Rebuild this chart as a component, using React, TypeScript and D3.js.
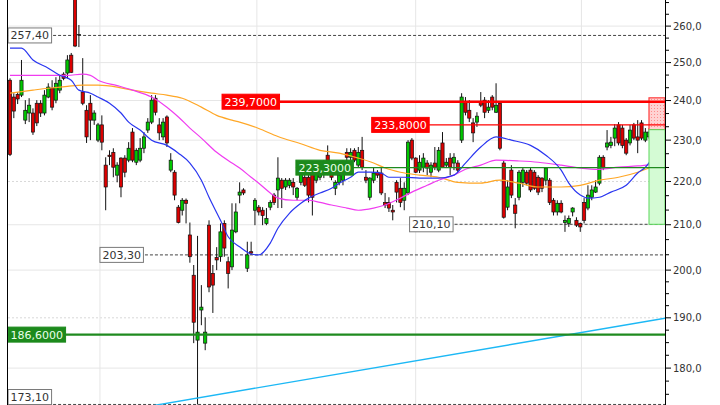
import * as d3 from 'd3'
import React from 'react'

const W = 720
const H = 405
const AXIS_X = 665
const FIRST_X = 10
const LAST_X = 653

// visible price range of the log axis
const priceBottom = 173.0
const priceTop = 267.4

// [open, high, low, close]
const candles: [number, number, number, number][] = [
  [245.3, 245.8, 226.1, 226.5], [240.9, 241.9, 235.5, 237.3], [241.6, 242.2, 239.1, 240.4], [241.4, 250.7, 240.9, 245.3],
  [235.0, 240.1, 234.0, 237.5], [236.8, 240.6, 234.5, 238.8], [236.8, 238.0, 231.3, 232.0], [239.3, 240.1, 233.5, 234.3],
  [239.3, 240.1, 235.8, 236.8], [236.8, 242.7, 236.2, 241.4], [240.9, 244.5, 240.6, 243.5], [243.2, 245.3, 237.5, 238.3],
  [240.1, 246.1, 239.3, 244.5], [242.7, 246.6, 241.9, 245.3], [246.9, 247.4, 245.3, 245.8], [247.2, 252.0, 245.8, 250.7],
  [252.0, 252.6, 247.2, 247.4], [276.1, 277.6, 254.2, 254.5], [257.6, 260.3, 254.2, 257.4], [242.2, 251.2, 238.8, 239.3],
  [237.5, 238.8, 229.3, 230.8], [239.3, 241.4, 230.0, 235.0], [235.0, 237.5, 233.8, 236.8], [230.0, 234.3, 229.5, 233.8],
  [233.8, 236.2, 227.5, 229.5], [223.9, 225.8, 213.3, 218.7], [226.3, 227.5, 223.9, 226.0], [227.0, 228.0, 221.0, 223.4],
  [221.5, 224.6, 219.8, 223.9], [225.6, 225.8, 216.3, 218.7], [225.6, 226.3, 221.0, 222.2], [225.1, 229.5, 224.6, 228.0],
  [232.0, 233.0, 224.6, 225.1], [224.6, 228.0, 223.9, 227.5], [225.1, 230.5, 224.6, 228.0], [228.0, 232.0, 226.8, 230.8],
  [232.5, 235.5, 231.8, 234.5], [234.5, 241.4, 234.0, 240.1], [240.6, 241.4, 236.2, 237.0], [233.8, 235.5, 230.0, 231.8],
  [230.8, 235.5, 230.0, 234.5], [235.8, 236.2, 228.3, 229.3], [222.7, 226.8, 222.2, 225.1], [222.2, 222.7, 215.6, 216.8],
  [214.0, 214.5, 210.3, 210.5], [213.3, 216.1, 212.1, 215.6], [215.6, 216.0, 210.3, 214.9], [207.7, 210.5, 201.6, 202.9],
  [198.9, 201.1, 184.9, 189.1], [185.5, 207.5, 173.1, 187.1], [191.6, 196.8, 188.5, 192.2], [184.9, 190.1, 183.5, 187.1],
  [209.9, 211.0, 195.3, 196.4], [199.3, 201.1, 191.0, 196.8], [202.7, 205.0, 200.0, 202.2], [202.9, 210.3, 201.8, 208.4],
  [210.3, 211.0, 202.9, 204.8], [201.8, 202.9, 196.1, 199.3], [200.7, 214.9, 200.0, 208.8], [208.4, 214.9, 208.1, 212.9],
  [216.8, 219.8, 214.9, 217.5], [218.0, 218.4, 216.8, 217.3], [200.4, 206.2, 199.6, 203.3], [204.0, 206.2, 203.3, 203.7],
  [213.3, 216.1, 209.9, 215.6], [214.0, 214.5, 212.1, 212.9], [213.3, 214.0, 209.9, 212.1], [210.3, 213.8, 209.9, 211.4],
  [214.0, 215.6, 213.3, 215.1], [216.8, 217.3, 214.5, 215.1], [218.0, 225.8, 213.8, 220.8], [220.3, 220.8, 213.8, 218.4],
  [218.7, 220.8, 218.0, 220.3], [219.1, 220.8, 218.4, 220.3], [219.8, 220.8, 216.8, 218.7], [216.3, 218.7, 215.6, 218.4],
  [219.8, 224.4, 219.1, 222.7], [221.0, 222.7, 218.7, 219.1], [221.0, 223.4, 215.1, 216.8], [222.0, 222.7, 212.1, 216.3],
  [220.3, 224.4, 219.6, 223.9], [221.0, 223.9, 220.3, 223.4], [222.2, 225.1, 220.8, 223.9], [226.3, 228.7, 221.5, 224.4],
  [222.7, 223.9, 220.3, 221.0], [218.4, 220.3, 216.8, 219.8], [219.8, 222.2, 219.1, 221.5], [220.3, 225.1, 219.1, 223.2],
  [227.0, 228.0, 224.6, 225.8], [225.8, 228.0, 225.1, 227.0], [227.5, 228.0, 224.6, 225.1], [223.9, 228.3, 223.4, 227.0],
  [227.5, 230.8, 222.7, 223.4], [221.0, 222.7, 219.6, 220.3], [216.3, 221.0, 215.6, 220.8], [220.3, 223.2, 219.6, 222.0],
  [222.2, 222.7, 220.8, 221.5], [222.0, 223.2, 216.8, 217.3], [215.1, 217.3, 213.8, 214.5], [215.1, 216.3, 212.9, 213.8],
  [213.3, 214.5, 211.0, 212.9], [219.8, 220.3, 215.1, 217.5], [218.4, 220.8, 214.0, 215.1], [215.6, 219.8, 213.3, 218.4],
  [217.3, 230.0, 216.8, 229.5], [230.0, 230.5, 225.1, 225.6], [225.6, 225.8, 222.0, 222.2], [222.7, 226.3, 222.0, 224.6],
  [223.4, 226.8, 222.2, 225.6], [224.4, 225.1, 221.5, 223.2], [222.2, 224.6, 221.0, 223.9], [224.4, 228.3, 222.7, 223.4],
  [222.7, 228.3, 222.2, 227.5], [229.3, 232.0, 223.2, 223.4], [223.9, 225.6, 223.2, 224.6], [225.6, 226.8, 221.5, 223.4],
  [224.4, 226.8, 222.7, 225.8], [224.4, 225.1, 222.2, 222.7], [230.0, 241.9, 229.3, 240.9], [239.6, 240.9, 236.2, 237.0],
  [237.5, 240.1, 234.5, 235.5], [234.3, 235.5, 229.5, 231.8], [234.5, 237.0, 233.3, 236.0], [239.6, 242.2, 238.3, 238.8],
  [240.1, 240.9, 235.5, 237.0], [237.5, 240.1, 236.8, 238.3], [240.9, 241.4, 237.5, 238.3], [237.0, 244.5, 236.8, 238.8],
  [239.3, 239.8, 227.5, 228.0], [224.4, 225.1, 211.4, 211.7], [214.0, 220.3, 213.3, 218.7], [222.7, 223.9, 216.1, 216.8],
  [214.5, 216.1, 209.2, 212.6], [216.3, 222.7, 215.6, 222.2], [219.8, 223.2, 218.7, 222.7], [222.2, 222.7, 219.1, 219.6],
  [222.7, 223.2, 217.5, 218.0], [222.2, 222.7, 218.0, 218.4], [221.0, 221.5, 216.8, 217.5], [220.8, 221.0, 217.5, 218.4],
  [220.3, 223.4, 219.1, 223.2], [220.3, 220.8, 214.5, 215.1], [215.6, 216.1, 212.1, 212.9], [212.9, 215.6, 212.1, 214.9],
  [214.9, 215.6, 212.6, 212.9], [210.5, 212.1, 208.4, 211.0], [210.3, 212.1, 209.5, 211.4], [212.9, 214.0, 211.9, 213.8],
  [211.0, 211.7, 209.5, 209.9], [210.3, 210.5, 208.4, 209.5], [215.1, 216.1, 210.3, 211.0], [213.8, 219.1, 213.3, 216.8],
  [216.3, 219.1, 215.6, 218.0], [217.5, 220.3, 217.3, 218.7], [219.6, 226.3, 219.1, 225.8], [225.8, 226.3, 222.7, 223.2],
  [228.3, 232.5, 227.5, 229.3], [228.7, 230.8, 228.0, 229.5], [230.5, 234.0, 228.5, 233.0], [233.8, 234.5, 228.7, 229.3],
  [233.0, 233.8, 228.0, 228.7], [230.0, 230.5, 226.3, 226.8], [229.3, 233.8, 228.7, 232.5], [233.8, 234.3, 230.0, 230.5],
  [230.8, 235.0, 226.8, 230.0], [234.3, 235.0, 230.0, 230.5], [230.0, 233.0, 229.5, 232.0], [230.8, 233.0, 230.3, 232.0],
  [231.0, 233.8, 230.3, 231.8],
]

// moving averages, [candle index, value]
const fastMA: [number, number][] = [
  [0, 253.9], [3, 253.9], [6, 250.7], [10, 248.5], [13, 246.6], [16, 245.3], [18, 242.7], [21, 241.9], [23, 240.9],
  [26, 239.3], [29, 236.8], [31, 234.5], [34, 232.5], [37, 230.0], [41, 228.7], [44, 226.8], [47, 224.4], [50, 220.3],
  [52, 216.3], [55, 211.0], [57, 207.3], [60, 205.1], [63, 203.5], [65, 203.3], [68, 205.9], [70, 209.2], [73, 212.6],
  [76, 214.9], [78, 216.1], [81, 217.3], [84, 218.4], [86, 219.6], [89, 221.0], [91, 222.2], [94, 222.2], [97, 222.0],
  [99, 221.0], [103, 221.0], [107, 220.8], [112, 220.8], [116, 221.5], [119, 224.4], [123, 228.3], [127, 230.8],
  [131, 230.0], [136, 228.7], [140, 226.3], [144, 222.7], [146, 219.6], [149, 216.8], [151, 216.1], [154, 216.3],
  [157, 217.5], [161, 219.1], [164, 222.0], [166, 223.4], [168, 225.8],
]
const midMA: [number, number][] = [
  [0, 246.6], [6, 246.6], [10, 246.6], [15, 246.6], [19, 246.9], [21, 246.6], [23, 245.3], [28, 243.9], [32, 242.7],
  [37, 240.9], [41, 238.3], [44, 235.8], [47, 233.0], [50, 230.5], [54, 227.0], [58, 224.4], [60, 223.2], [63, 221.0],
  [65, 219.6], [68, 217.3], [70, 216.1], [74, 215.6], [78, 215.6], [81, 215.1], [84, 214.5], [88, 213.8], [91, 213.3],
  [95, 213.8], [98, 214.5], [102, 216.1], [105, 217.5], [109, 219.1], [112, 220.3], [116, 221.5], [119, 222.9],
  [123, 223.9], [127, 225.1], [133, 224.9], [138, 224.6], [144, 223.9], [149, 223.2], [154, 222.9], [159, 223.4],
  [164, 223.7], [168, 224.1],
]
const slowMA: [number, number][] = [
  [0, 241.9], [6, 242.7], [10, 243.2], [15, 243.7], [19, 244.0], [23, 244.0], [28, 243.5], [32, 242.7], [37, 241.9],
  [41, 241.4], [45, 240.6], [50, 238.3], [54, 236.2], [58, 235.0], [60, 234.5], [65, 232.9], [70, 230.9], [76, 229.1],
  [81, 227.5], [86, 226.8], [91, 225.6], [95, 224.4], [98, 223.2], [102, 222.2], [107, 221.5], [112, 221.0],
  [117, 219.8], [123, 219.6], [128, 220.3], [133, 219.6], [138, 218.7], [144, 218.7], [149, 219.1], [154, 220.3],
  [159, 221.0], [164, 222.2], [167, 223.2],
]

// horizontal levels: value, candle index where the label starts
const redLevels = [
  { value: 239.7, from: 55.4, thick: 2.4 },
  { value: 233.8, from: 94.5, thick: 1.3 },
]
const greenLevels = [
  { value: 223.3, from: 74.7, thick: 1.4 },
  { value: 186.6, from: -0.5, thick: 2.2 },
]
const markLevels = [
  { value: 257.4, from: -0.5 },
  { value: 210.1, from: 104.4 },
  { value: 203.3, from: 23.5 },
  { value: 173.1, from: -0.5 },
]

// trend line anchors
const trendA = { i: 40, v: 173.2 }
const trendB = { i: 168, v: 189.5 }

// projection boxes right of the last candle
const boxMid = 232.6
const boxHigh = 240.7
const boxLow = 210.1

const majorTicks = [180, 190, 200, 210, 220, 230, 240, 250, 260]
const dottedTicks = [190, 220]
const monthIdx = [23.5, 64.5, 106, 149.3]

const canvas = document.createElement('canvas').getContext('2d')
const textW = (s: string, font: string) => {
  if (!canvas) return s.length * 7
  canvas.font = font
  return canvas.measureText(s).width
}
const comma = (v: number, d: number) => v.toFixed(d).replace('.', ',')

const LABEL_FONT = '11px "DejaVu Sans"'

const Label = ({ x, y, text, fill, stroke, color }) => {
  const w = textW(text, LABEL_FONT) + 5
  // keep the box inside the picture
  const cy = Math.min(y, H - 8)
  return (
    <g>
      <rect x={x} y={cy - 7.5} width={w} height={15} fill={fill} stroke={stroke} strokeWidth={1} />
      <text x={x + 2.5} y={cy} dy="0.36em" fill={color} fontSize="11" fontFamily="DejaVu Sans">
        {text}
      </text>
    </g>
  )
}

const App = () => {
  const x = d3.scaleLinear().domain([0, candles.length - 1]).range([FIRST_X, LAST_X])
  const y = d3.scaleLog().domain([priceBottom, priceTop]).range([H, 0])

  const maLine = d3
    .line<[number, number]>()
    .x((d) => x(d[0]))
    .y((d) => y(d[1]))
    .curve(d3.curveMonotoneX)

  // minor ticks: thirds above 200, quarters below
  const minor: number[] = []
  const bases = [170, ...majorTicks]
  bases.forEach((t) => {
    const n = t >= 200 ? 3 : 4
    for (let k = 1; k < n; k++) {
      const v = t + (10 * k) / n
      if (v > priceBottom && v < priceTop) minor.push(v)
    }
  })

  const ax = x(trendA.i)
  const ay = y(trendA.v)
  const slope = (y(trendB.v) - ay) / (x(trendB.i) - ax)
  const tx0 = ax + (H + 2 - ay) / slope
  const ty1 = ay + slope * (AXIS_X - ax)

  const boxX = x(candles.length - 1) - 4

  return (
    <svg width={W} height={H} style={{ position: 'absolute', left: 0, top: 0, background: '#fff' }}>
      <defs>
        <clipPath id="plot">
          <rect x={8} y={0} width={AXIS_X - 8} height={H} />
        </clipPath>
        <pattern id="dots" width="3" height="3" patternUnits="userSpaceOnUse">
          <rect width="3" height="3" fill="#ffd2d2" />
          <rect width="1" height="1" fill="#ff8c8c" />
        </pattern>
      </defs>

      {/* grid */}
      {majorTicks.map((t) => (
        <line
          key={t}
          x1={8}
          x2={AXIS_X}
          y1={y(t)}
          y2={y(t)}
          stroke={dottedTicks.includes(t) ? '#d8d8d8' : '#e6e6e6'}
          strokeDasharray={dottedTicks.includes(t) ? '2 2' : undefined}
        />
      ))}
      {monthIdx.map((m) => (
        <line key={m} x1={x(m)} x2={x(m)} y1={0} y2={H} stroke="#e6e6e6" />
      ))}

      {/* marker dashed lines */}
      {markLevels.map((l) => (
        <line
          key={l.value}
          x1={x(l.from)}
          x2={AXIS_X}
          y1={y(l.value)}
          y2={y(l.value)}
          stroke="#444"
          strokeDasharray="3 2"
        />
      ))}

      <g clipPath="url(#plot)">
        {candles.map(([o, h, l, c], i) => {
          const cx = x(i)
          const top = y(Math.max(o, c))
          const bot = y(Math.min(o, c))
          return (
            <g key={i}>
              <line x1={cx} x2={cx} y1={y(h)} y2={y(l)} stroke="#111" strokeWidth={1} />
              {bot - top < 1.2 ? (
                <line x1={cx - 2} x2={cx + 2} y1={top} y2={top} stroke="#111" strokeWidth={1.2} />
              ) : (
                <rect
                  x={cx - 1.6}
                  y={top}
                  width={3.2}
                  height={bot - top}
                  fill={c >= o ? '#00c800' : '#dc0000'}
                  stroke="#111"
                  strokeWidth={0.7}
                />
              )}
            </g>
          )
        })}

        <path d={maLine(slowMA)} fill="none" stroke="#ffa726" strokeWidth={1.2} />
        <path d={maLine(midMA)} fill="none" stroke="#f03cf0" strokeWidth={1.2} />
        <path d={maLine(fastMA)} fill="none" stroke="#2a36f0" strokeWidth={1.2} />

        <line x1={tx0} y1={H + 2} x2={AXIS_X} y2={ty1} stroke="#1cb8f5" strokeWidth={1.4} />
      </g>

      {/* projection boxes */}
      <rect x={boxX} y={y(boxHigh)} width={AXIS_X - boxX} height={y(boxMid) - y(boxHigh)} fill="url(#dots)" stroke="#ff3a3a" strokeWidth={1.2} />
      <rect x={boxX} y={y(boxMid)} width={AXIS_X - boxX} height={y(boxLow) - y(boxMid)} fill="#d4fbd4" stroke="#5ad85a" strokeWidth={1} />

      {/* levels */}
      {redLevels.map((l) => (
        <line key={l.value} x1={x(l.from)} x2={AXIS_X} y1={y(l.value)} y2={y(l.value)} stroke="#ff0000" strokeWidth={l.thick} />
      ))}
      {greenLevels.map((l) => (
        <line key={l.value} x1={x(l.from)} x2={AXIS_X} y1={y(l.value)} y2={y(l.value)} stroke="#1f8a1f" strokeWidth={l.thick} />
      ))}
      {redLevels.map((l) => (
        <Label key={l.value} x={x(l.from)} y={y(l.value)} text={comma(l.value, 4)} fill="#ff0000" stroke="#ff0000" color="#fff" />
      ))}
      {greenLevels.map((l) => (
        <Label key={l.value} x={x(l.from)} y={y(l.value)} text={comma(l.value, 4)} fill="#1c8a1c" stroke="#1c8a1c" color="#eaffea" />
      ))}
      {markLevels.map((l) => (
        <Label key={l.value} x={x(l.from)} y={y(l.value)} text={comma(l.value, 2)} fill="#fff" stroke="#7a7a7a" color="#333" />
      ))}

      {/* borders and axis */}
      <line x1={7.5} x2={7.5} y1={0} y2={H} stroke="#000" />
      <line x1={AXIS_X + 0.5} x2={AXIS_X + 0.5} y1={0} y2={H} stroke="#000" />
      {minor.map((t) => (
        <line key={t} x1={AXIS_X} x2={AXIS_X + 4} y1={y(t)} y2={y(t)} stroke="#000" />
      ))}
      {majorTicks.map((t) => (
        <g key={t}>
          <line x1={AXIS_X} x2={AXIS_X + 6} y1={y(t)} y2={y(t)} stroke="#000" />
          <text x={AXIS_X + 8} y={y(t)} dy="0.36em" fontSize="10" fontFamily="DejaVu Sans" fill="#333">
            {comma(t, 1)}
          </text>
        </g>
      ))}
    </svg>
  )
}

export default App
